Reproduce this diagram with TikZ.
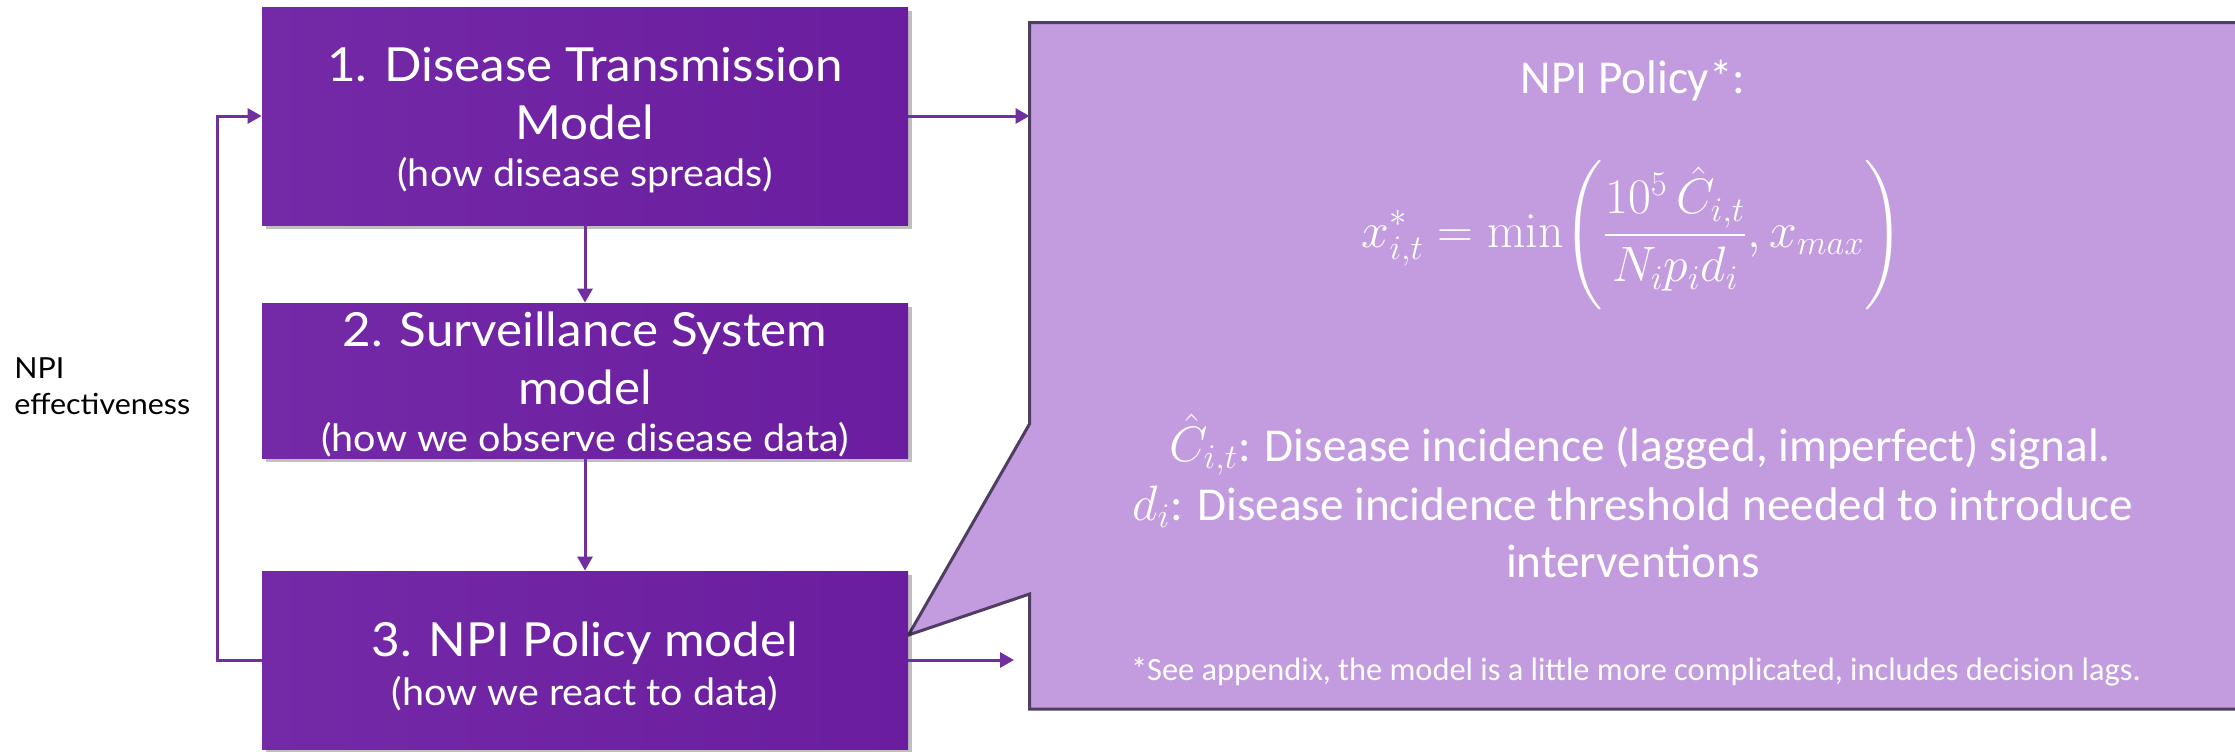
\documentclass[tikz,border=0pt]{standalone}
\usepackage{amsmath}
\usepackage[no-math]{fontspec}
\setmainfont{Carlito}
\newfontfamily\boxfont[FakeStretch=1.05]{Lato}
\usetikzlibrary{arrows.meta,shadows}
\definecolor{boxL}{HTML}{7429A7}
\definecolor{boxR}{HTML}{6A1E9F}
\definecolor{arrowpurple}{HTML}{7030A0}
\definecolor{callfill}{HTML}{C39BDF}
\definecolor{callborder}{HTML}{4E3E62}
\tikzset{
  mbox/.style={rectangle, draw=none, left color=boxL, right color=boxR, minimum width=323pt, inner sep=0,
    drop shadow={shadow xshift=2pt, shadow yshift=-2pt, opacity=0.25, fill=black}},
  boxtitle/.style={text=white, font=\boxfont\fontsize{23.5}{28}\selectfont, anchor=base, inner sep=0},
  boxsub/.style={text=white, font=\boxfont\fontsize{18.8}{22}\selectfont, anchor=base, inner sep=0},
  calltext/.style={text=white, font=\fontsize{23.6}{27}\selectfont, anchor=base, inner sep=0},
  footnotetext/.style={text=white, font=\fontsize{16.2}{19}\selectfont, anchor=base, inner sep=0},
  sidetext/.style={text=black, font=\boxfont\fontsize{14.5}{17}\selectfont, anchor=base west, inner sep=0},
  arr/.style={draw=arrowpurple, line width=1.5pt, -{Triangle[length=7pt,width=7.5pt]}},
}
\begin{document}
\begin{tikzpicture}[x=0.5pt,y=-0.5pt]
\clip (0,0) rectangle (2235,751);
\fill[white] (0,0) rectangle (2235,751);
% callout
\draw[callborder, fill=callfill, line width=1.5pt, line join=miter]
  (1029.5,22.5) -- (2245,22.5) -- (2245,709) -- (1029.5,709) -- (1029.5,594) -- (908.5,635) -- (1029.5,424) -- cycle;
\coordinate (c1) at (1029.5,116);
\coordinate (c3) at (1014,660);
% boxes
\node[mbox, minimum height=109pt] (b1) at (585,116) {};
\node[mbox, minimum height=77.5pt] (b2) at (585,380.5) {};
\node[mbox, minimum height=89pt] (b3) at (585,660) {};
% box texts
\node[boxtitle] (t1a) at (585,81) {1. Disease Transmission};
\node[boxtitle] (t1b) at (585,139) {Model};
\node[boxsub] (t1c) at (585,186) {(how disease spreads)};
\node[boxtitle] (t2a) at (585,346) {2. Surveillance System};
\node[boxtitle] (t2b) at (585,404) {model};
\node[boxsub] (t2c) at (585,451) {(how we observe disease data)};
\node[boxtitle] (t3a) at (585,656) {3. NPI Policy model};
\node[boxsub] (t3b) at (585,705) {(how we react to data)};
% side label
\node[sidetext] (s1) at (14,378) {NPI};
\node[sidetext] (s2) at (14,414) {effectiveness};
% connectors
\draw[arr] (b1.south) -- (b2.north);
\draw[arr] (b2.south) -- (b3.north);
\draw[arr] (b3.west) -- ++(-44.5,0) |- (b1.west);
\draw[arr] (b1.east) -- (c1);
\draw[arr] (b3.east) -- (c3);
% callout text
\node[calltext] (p1) at (1633,93) {NPI Policy*:};
\node[text=white, inner sep=0, font=\fontsize{23}{28}\selectfont] (f1) at (1633,235)
  {$\displaystyle x^{*}_{i,t} = \min\Biggl(\frac{10^5\,\hat{C}_{i,t}}{N_i p_i d_i}, x_{max}\Biggr)$};
\node[calltext] (p2) at (1640,461) {$\hat{C}_{i,t}$: Disease incidence (lagged, imperfect) signal.};
\node[calltext] (p3) at (1633,520) {$d_i$: Disease incidence threshold needed to introduce};
\node[calltext] (p4) at (1633,577) {interventions};
\node[footnotetext] (p5) at (1636,680) {*See appendix, the model is a little more complicated, includes decision lags.};
\end{tikzpicture}
\end{document}
